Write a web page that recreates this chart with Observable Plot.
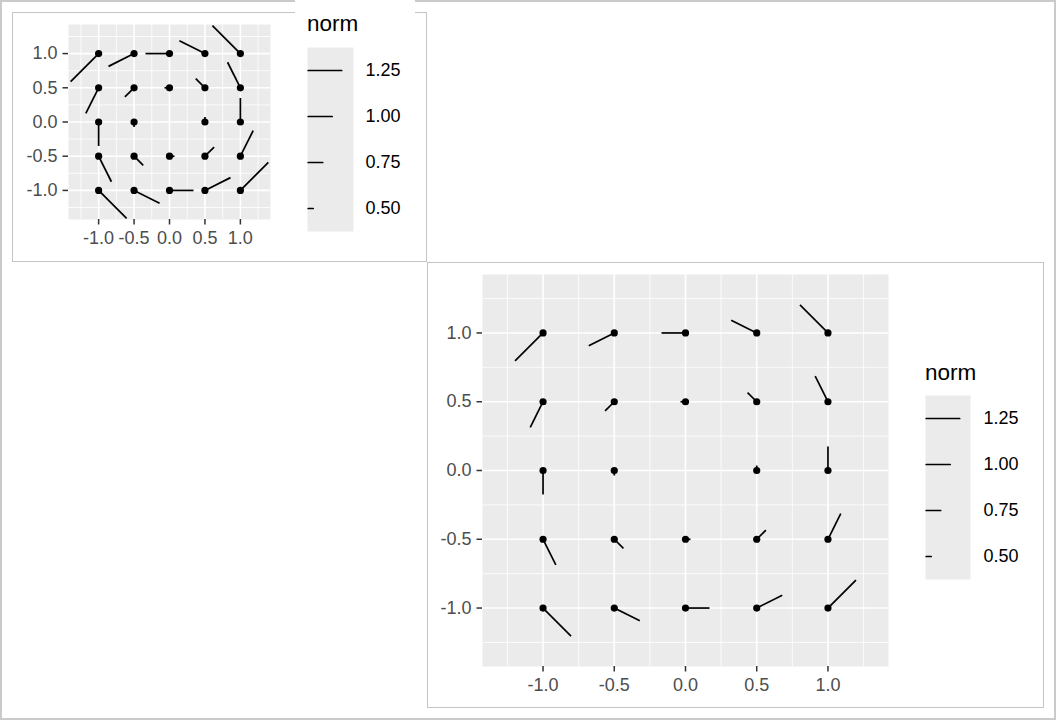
<!DOCTYPE html>
<html><head><meta charset="utf-8">
<script src="https://cdn.jsdelivr.net/npm/d3@7"></script>
<script src="https://cdn.jsdelivr.net/npm/@observablehq/plot@0.6"></script>
<style>
body{margin:0;background:#fff;}
#root{position:relative;width:1056px;height:720px;overflow:hidden;font-family:"Liberation Sans",Arial,Helvetica,sans-serif;}
.abs{position:absolute;box-sizing:border-box;}
.title{position:absolute;font-size:22.5px;line-height:22.5px;color:#000;white-space:nowrap;}
</style></head><body><div id="root"></div>
<script>
// ---- data ----
const pointX = [-1,-0.5,0,0.5,1, -1,-0.5,0,0.5,1, -1,-0.5,0,0.5,1, -1,-0.5,0,0.5,1, -1,-0.5,0,0.5,1];
const pointY = [1,1,1,1,1, 0.5,0.5,0.5,0.5,0.5, 0,0,0,0,0, -0.5,-0.5,-0.5,-0.5,-0.5, -1,-1,-1,-1,-1];
// spoke direction, degrees clockwise from north (null = missing, not drawn)
const spokeAngle = [-135,-116.6,-90,-63.4,-45, -153.4,-135,-90,-45,-26.6, 180,180,null,0,0, 153.4,135,90,45,26.6, 135,116.6,90,63.4,45];
const spokeNorm = [1.41,1.12,1.00,1.12,1.41, 1.12,0.71,0.50,0.71,1.12, 1.00,0.50,null,0.50,1.00, 1.12,0.71,0.50,0.71,1.12, 1.41,1.12,1.00,1.12,1.41];
const axisTicks = [-1,-0.5,0,0.5,1];
const minorTicks = [-1.25,-0.75,-0.25,0.25,0.75,1.25];
const legendBreaks = [1.25,1.00,0.75,0.50];
const legendLabels = ["1.25","1.00","0.75","0.50"];

const rows = pointX.map((x,i)=>({x, y: pointY[i], angle: spokeAngle[i], norm: spokeNorm[i]}));
const present = rows.filter(d => d.norm != null);
const legendRows = legendBreaks.map((v,i)=>({value:v, label:legendLabels[i]}));

const lineShape = {draw(context, l){ context.moveTo(0,0); context.lineTo(0,-l); }};
const lengthScale = {type:"linear", domain:[0.5,1.25], range:[5,33.5]};
const FONT = '"Liberation Sans",Arial,Helvetica,sans-serif';
const fmt = d => d.toFixed(1);

const root = document.getElementById("root");
function box(l,t,w,h,css){ const d=document.createElement("div"); d.className="abs"; Object.assign(d.style,{left:l+"px",top:t+"px",width:w+"px",height:h+"px"},css); root.appendChild(d); return d; }
function place(el,l,t){ el.style.position="absolute"; el.style.left=l+"px"; el.style.top=t+"px"; root.appendChild(el); }

function panel(width,height,ml,mr,mt,mb){
  return Plot.plot({
    width, height, marginLeft:ml, marginRight:mr, marginTop:mt, marginBottom:mb,
    style:{background:"transparent", fontFamily:FONT, fontSize:"18px", maxWidth:"none", overflow:"visible"},
    x:{domain:[-1.425,1.425], label:null},
    y:{domain:[-1.425,1.425], label:null},
    length: lengthScale,
    marks:[
      Plot.frame({fill:"#EBEBEB", stroke:null}),
      Plot.gridX(minorTicks,{stroke:"white", strokeOpacity:1, strokeWidth:0.8}),
      Plot.gridY(minorTicks,{stroke:"white", strokeOpacity:1, strokeWidth:0.8}),
      Plot.gridX(axisTicks,{stroke:"white", strokeOpacity:1, strokeWidth:1.6}),
      Plot.gridY(axisTicks,{stroke:"white", strokeOpacity:1, strokeWidth:1.6}),
      Plot.vector(present,{x:"x", y:"y", rotate:"angle", length:"norm", anchor:"start", shape:lineShape, stroke:"black", strokeWidth:1.7, strokeLinecap:"butt"}),
      Plot.dot(present,{x:"x", y:"y", r:3.6, fill:"black", stroke:null}),
      Plot.axisX(axisTicks,{tickFormat:fmt, tickSize:5.5, tickPadding:6.5, stroke:"#333333", strokeWidth:1.5, fill:"#4D4D4D", fontSize:18, label:null}),
      Plot.axisY(axisTicks,{tickFormat:fmt, tickSize:5.5, tickPadding:5.5, stroke:"#333333", strokeWidth:1.5, fill:"#4D4D4D", fontSize:18, label:null})
    ]
  });
}

function legend(keyWidth){
  return Plot.plot({
    width:120, height:184, marginLeft:0, marginRight:120-keyWidth, marginTop:0, marginBottom:0,
    style:{background:"transparent", fontFamily:FONT, fontSize:"18px", maxWidth:"none", overflow:"visible"},
    y:{type:"point", domain:legendLabels, range:[23.2,161.5], padding:0, axis:null},
    length: lengthScale,
    marks:[
      Plot.frame({fill:"#EBEBEB", stroke:null}),
      Plot.vector(legendRows,{y:"label", length:"value", rotate:90, anchor:"start", frameAnchor:"left", dx:0.7, shape:lineShape, stroke:"black", strokeWidth:1.7}),
      Plot.text(legendRows,{y:"label", text:"label", frameAnchor:"left", dx:58, textAnchor:"start", fontSize:18, fill:"#000"})
    ]
  });
}

// frames / borders
box(0,0,1056,720,{border:"2px solid #cacaca"});
box(12,12,415,250,{border:"1px solid #c4c4c4"});
box(427,262,617,446,{border:"1px solid #c4c4c4"});
// small plot legend background (overflows its box)
box(295,0,120,243,{background:"#ffffff"});

// small panel
place(panel(300,260,68,30,24,41),0,0);
place(legend(46),307,47);
const t1=document.createElement("div"); t1.className="title"; t1.textContent="norm"; t1.style.left="307px"; t1.style.top="12.7px"; root.appendChild(t1);

// large panel
place(panel(470,445,55,9,12,41),427,262);
place(legend(45),925,395);
const t2=document.createElement("div"); t2.className="title"; t2.textContent="norm"; t2.style.left="925px"; t2.style.top="361.7px"; root.appendChild(t2);
</script></body></html>
